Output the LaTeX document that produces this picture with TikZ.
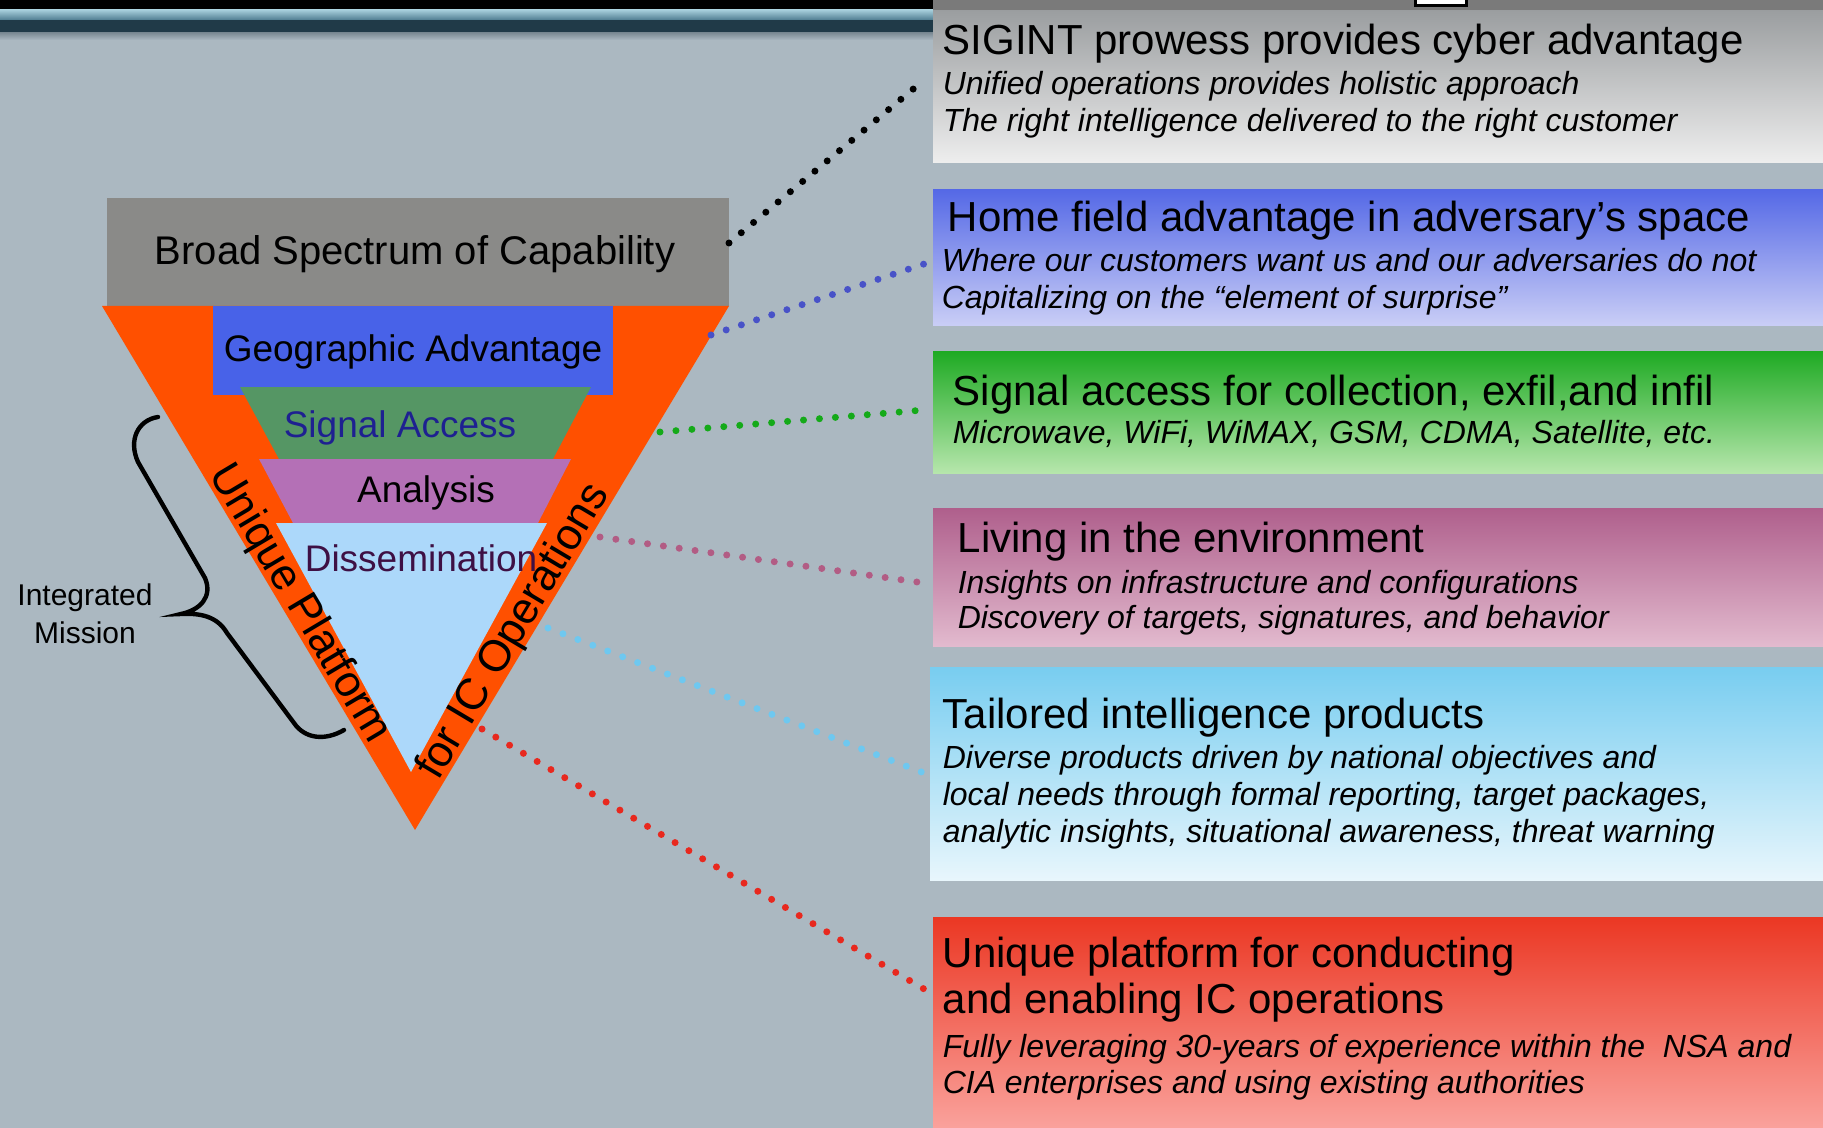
\documentclass[tikz,border=0pt]{standalone}
\usepackage{fontspec}
\setmainfont{Liberation Sans}

\tikzset{every picture/.style={line width=0.75pt}}
\tikzset{
  dotlink/.style={line width=3.5pt, line cap=round, dash pattern=on 0pt off 8pt},
  headtxt/.style={anchor=base west, inner sep=0pt, font=\fontsize{21}{25}\selectfont},
  subtxt/.style={anchor=base west, inner sep=0pt, font=\fontsize{16}{19}\selectfont\itshape},
  layertxt/.style={anchor=base, inner sep=0pt, font=\fontsize{18.5}{22}\selectfont},
  edgetxt/.style={inner sep=0pt, font=\fontsize{22}{26}\selectfont}
}

\begin{document}
\begin{tikzpicture}[x=0.5pt,y=0.5pt,yscale=-1,xscale=1]
\useasboundingbox (0,0) rectangle (1823,1128);

%Shape: Background
\fill [fill={rgb, 255:red, 171; green, 184; blue, 193 }] (0,0) rectangle (1823,1128);
%Shape: Top bands
\fill [fill=black] (0,0) rectangle (933,10);
\shade [top color={rgb, 255:red, 165; green, 205; blue, 218 }, bottom color={rgb, 255:red, 80; green, 125; blue, 145 }] (0,10) rectangle (933,20);
\fill [fill={rgb, 255:red, 32; green, 58; blue, 72 }] (0,20) rectangle (933,33);
\shade [top color={rgb, 255:red, 125; green, 140; blue, 150 }, bottom color={rgb, 255:red, 171; green, 184; blue, 193 }] (0,33) rectangle (933,40);
\fill [fill={rgb, 255:red, 122; green, 122; blue, 122 }] (933,0) rectangle (1823,11);
\draw [fill=white, line width=1.5pt] (1415,-3) rectangle (1466,6);

%Shape: Panels
\shade [top color={rgb, 255:red, 155; green, 158; blue, 160 }, bottom color={rgb, 255:red, 238; green, 238; blue, 238 }] (933,11) rectangle (1823,163);
\shade [top color={rgb, 255:red, 85; green, 105; blue, 230 }, bottom color={rgb, 255:red, 202; green, 206; blue, 246 }] (933,190) rectangle (1823,326);
\shade [top color={rgb, 255:red, 30; green, 170; blue, 35 }, bottom color={rgb, 255:red, 182; green, 230; blue, 172 }] (933,351) rectangle (1823,473);
\shade [top color={rgb, 255:red, 175; green, 95; blue, 140 }, bottom color={rgb, 255:red, 226; green, 186; blue, 206 }] (933,508) rectangle (1823,646);
\shade [top color={rgb, 255:red, 120; green, 205; blue, 240 }, bottom color={rgb, 255:red, 232; green, 246; blue, 252 }] (930,667) rectangle (1823,880);
\shade [top color={rgb, 255:red, 235; green, 55; blue, 35 }, bottom color={rgb, 255:red, 250; green, 162; blue, 156 }] (933,917) rectangle (1823,1128);

%Shape: Rectangle
\fill [fill={rgb, 255:red, 138; green, 138; blue, 136 }] (107,198) rectangle (729,306);
%Shape: Triangle
\fill [fill={rgb, 255:red, 255; green, 80; blue, 0 }] (102,306) -- (729,306) -- (415,830) -- cycle;
%Shape: Rectangle
\fill [fill={rgb, 255:red, 72; green, 98; blue, 232 }] (213,306) rectangle (613,395);
%Shape: Trapezoid
\fill [fill={rgb, 255:red, 85; green, 150; blue, 100 }] (240,387) -- (591,387) -- (553,459) -- (279,459) -- cycle;
%Shape: Trapezoid
\fill [fill={rgb, 255:red, 180; green, 112; blue, 182 }] (259,459) -- (571,459) -- (538,523) -- (293,523) -- cycle;
%Shape: Triangle
\fill [fill={rgb, 255:red, 172; green, 216; blue, 250 }] (276,523) -- (547,523) -- (411,772) -- cycle;

%Shape: Brace
\draw [line width=2.2pt, line cap=round] (158,417) .. controls (138,420) and (128,440) .. (138,462) -- (205,578) .. controls (213,597) and (200,610) .. (181,614) .. controls (200,613) and (217,616) .. (227,633) -- (294,723) .. controls (305,739) and (325,741) .. (344,730);

\draw (415,265) node [layertxt, font=\fontsize{20}{24}\selectfont] (broad) {Broad Spectrum of Capability};
\draw (413,361) node [layertxt] (geo) {Geographic Advantage};
\draw (400,437) node [layertxt, text={rgb, 255:red, 30; green, 32; blue, 145 }] (sigacc) {Signal Access};
\draw (426,502) node [layertxt] (analysis) {Analysis};
\draw (421,571) node [layertxt, text={rgb, 255:red, 62; green, 16; blue, 68 }] (dissem) {Dissemination};
\draw (299,604) node [edgetxt, rotate=-59.2] (uplat) {Unique Platform};
\draw (514,632) node [edgetxt, rotate=59.2] (forops) {for IC Operations};
\draw (85,614) node [inner sep=0pt, align=center, font=\fontsize{15}{19}\selectfont] (intmis) {Integrated\\Mission};

%Panel texts
\draw (942,55) node [headtxt] (sigHead) {SIGINT prowess provides cyber advantage};
\draw (942,95) node [subtxt] (sigSubA) {Unified operations provides holistic approach};
\draw (942,132) node [subtxt] (sigSubB) {The right intelligence delivered to the right customer};
\draw (947,232) node [headtxt] (homeHead) {Home field advantage in adversary’s space};
\draw (941,272) node [subtxt] (homeSubA) {Where our customers want us and our adversaries do not};
\draw (941,308) node [subtxt] (homeSubB) {Capitalizing on the “element of surprise”};
\draw (952,405) node [headtxt] (accHead) {Signal access for collection, exfil,and infil};
\draw (952,443) node [subtxt] (accSub) {Microwave, WiFi, WiMAX, GSM, CDMA, Satellite, etc.};
\draw (957,552) node [headtxt] (livHead) {Living in the environment};
\draw (957,593) node [subtxt] (livSubA) {Insights on infrastructure and configurations};
\draw (957,628) node [subtxt] (livSubB) {Discovery of targets, signatures, and behavior};
\draw (942,728) node [headtxt] (taiHead) {Tailored intelligence products};
\draw (942,768) node [subtxt] (taiSubA) {Diverse products driven by national objectives and};
\draw (942,805) node [subtxt] (taiSubB) {local needs through formal reporting, target packages,};
\draw (942,842) node [subtxt] (taiSubC) {analytic insights, situational awareness, threat warning};
\draw (942,967) node [headtxt] (uniHeadA) {Unique platform for conducting};
\draw (942,1013) node [headtxt] (uniHeadB) {and enabling IC operations};
\draw (942,1057) node [subtxt] (uniSubA) {Fully leveraging 30-years of experience within the \ NSA and};
\draw (942,1093) node [subtxt] (uniSubB) {CIA enterprises and using existing authorities};

%Dotted links
\coordinate (cBroad) at (729,243);
\coordinate (cGeo) at (711,335);
\coordinate (cSig) at (660,432);
\coordinate (cDis) at (600,537);
\coordinate (cTri) at (548,628);
\coordinate (cPlat) at (482,729);
\coordinate (pSig) at (924,80);
\coordinate (pHome) at (924,264);
\coordinate (pAcc) at (924,410);
\coordinate (pLiv) at (924,583);
\coordinate (pTai) at (924,773);
\coordinate (pUni) at (924,989);
\draw [dotlink, draw=black] (cBroad) -- (pSig);
\draw [dotlink, draw={rgb, 255:red, 72; green, 82; blue, 200 }] (cGeo) -- (pHome);
\draw [dotlink, draw={rgb, 255:red, 20; green, 170; blue, 25 }] (cSig) -- (pAcc);
\draw [dotlink, draw={rgb, 255:red, 178; green, 92; blue, 132 }] (cDis) -- (pLiv);
\draw [dotlink, draw={rgb, 255:red, 110; green, 200; blue, 240 }] (cTri) -- (pTai);
\draw [dotlink, draw={rgb, 255:red, 232; green, 40; blue, 30 }] (cPlat) -- (pUni);

\end{tikzpicture}
\end{document}
